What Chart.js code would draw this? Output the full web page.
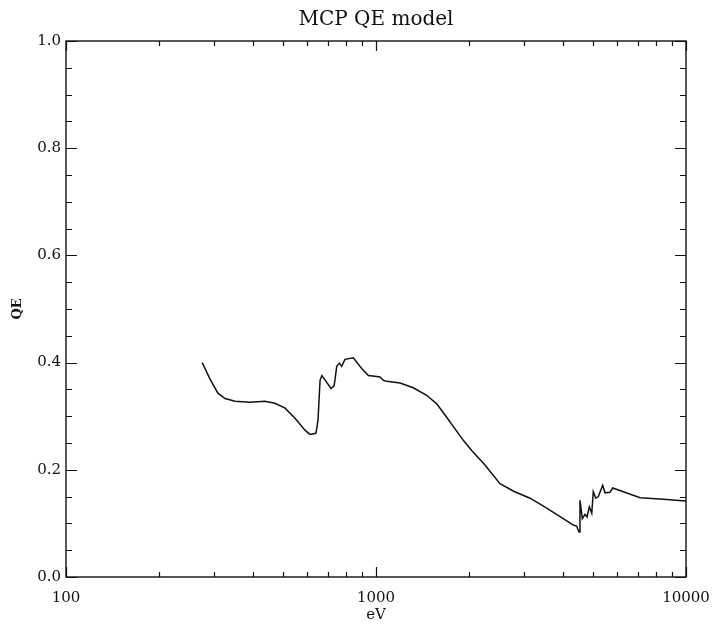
<!DOCTYPE html>
<html>
<head>
<meta charset="utf-8">
<title>MCP QE model</title>
<script src="https://cdn.jsdelivr.net/npm/chart.js@4/dist/chart.umd.min.js"></script>
<style>
  html, body { margin: 0; padding: 0; background: #fff; }
  #qeChart { display: block; }
</style>
</head>
<body>
<canvas id="qeChart" width="715" height="630"></canvas>
<script>
// photon energy (eV) and modelled quantum efficiency
const energyEv = [275, 291, 309, 326, 351, 392, 438, 472, 509, 548, 590, 612, 640, 650, 660, 669, 690, 716, 732, 737,
  747, 762, 775, 794, 845, 899, 945, 1005, 1030, 1056, 1083, 1195, 1319, 1457, 1570, 1690, 1913, 2035, 2247, 2512,
  2780, 3140, 3500, 4019, 4327, 4437, 4517, 4550, 4630, 4722, 4795, 4878, 4966, 5023, 5116, 5214, 5386, 5481, 5689,
  5801, 6280, 7112, 8454, 10000];
const qe = [0.400, 0.370, 0.343, 0.333, 0.328, 0.326, 0.328, 0.324, 0.315, 0.296, 0.274, 0.266, 0.268, 0.292, 0.367, 0.376, 0.365, 0.352, 0.356, 0.367,
  0.393, 0.399, 0.393, 0.406, 0.409, 0.389, 0.376, 0.374, 0.373, 0.367, 0.365, 0.362, 0.353, 0.339, 0.323, 0.298, 0.255, 0.236, 0.209, 0.174,
  0.160, 0.147, 0.131, 0.109, 0.097, 0.095, 0.084, 0.143, 0.109, 0.117, 0.112, 0.131, 0.119, 0.159, 0.147, 0.150, 0.171, 0.157, 0.158,
  0.166, 0.159, 0.148, 0.145, 0.142];

// axis ticks
const xMajorTicks = [100, 1000, 10000];
const xMinorTicks = [200, 300, 400, 500, 600, 700, 800, 900, 2000, 3000, 4000, 5000, 6000, 7000, 8000, 9000];
const yMajorTicks = [0, 0.2, 0.4, 0.6, 0.8, 1.0];
const yMinorTicks = [0.05, 0.1, 0.15, 0.25, 0.3, 0.35, 0.45, 0.5, 0.55, 0.65, 0.7, 0.75, 0.85, 0.9, 0.95];

const serif = "'DejaVu Serif', 'Liberation Serif', serif";

// frame on all four sides with inward ticks, mirrored top/right
const frameTicks = {
  id: 'frameTicks',
  afterDatasetsDraw(chart) {
    const { ctx, chartArea: a, scales: { x, y } } = chart;
    ctx.save();
    ctx.strokeStyle = '#111';
    ctx.lineWidth = 1.4;
    ctx.strokeRect(a.left, a.top, a.right - a.left, a.bottom - a.top);
    ctx.lineWidth = 1.2;
    ctx.beginPath();
    const xt = (v, len) => {
      const px = Math.round(x.getPixelForValue(v)) + 0.5;
      ctx.moveTo(px, a.bottom); ctx.lineTo(px, a.bottom - len);
      ctx.moveTo(px, a.top); ctx.lineTo(px, a.top + len);
    };
    const yt = (v, len) => {
      const py = Math.round(y.getPixelForValue(v)) + 0.5;
      ctx.moveTo(a.left, py); ctx.lineTo(a.left + len, py);
      ctx.moveTo(a.right, py); ctx.lineTo(a.right - len, py);
    };
    xMajorTicks.forEach(v => xt(v, 10));
    xMinorTicks.forEach(v => xt(v, 5));
    yMajorTicks.forEach(v => yt(v, 11));
    yMinorTicks.forEach(v => yt(v, 6));
    ctx.stroke();
    ctx.restore();
  }
};

new Chart(document.getElementById('qeChart'), {
  type: 'line',
  data: {
    datasets: [{
      data: energyEv.map((e, i) => ({ x: e, y: qe[i] })),
      borderColor: '#111',
      borderWidth: 1.5,
      pointRadius: 0,
      tension: 0,
      fill: false
    }]
  },
  options: {
    responsive: false,
    animation: false,
    events: [],
    layout: { padding: { left: 0, right: 29, top: 0, bottom: 0 } },
    plugins: {
      legend: { display: false },
      tooltip: { enabled: false },
      title: {
        display: true,
        fullSize: false,
        text: 'MCP QE model',
        color: '#111',
        font: { family: serif, size: 20, weight: 'normal' },
        padding: { top: 8, bottom: 9 }
      }
    },
    scales: {
      x: {
        type: 'logarithmic',
        min: 100,
        max: 10000,
        afterBuildTicks: scale => {
          scale.ticks = xMajorTicks.map(v => ({ value: v }));
        },
        afterFit: scale => {
          scale.height = 53;
          scale.paddingLeft = 0;
          scale.paddingRight = 0;
        },
        grid: { display: false, drawTicks: false },
        border: { display: false },
        ticks: {
          autoSkip: false,
          maxRotation: 0,
          padding: 12,
          color: '#111',
          font: { family: serif, size: 15 },
          callback: v => String(v)
        },
        title: {
          display: true,
          text: 'eV',
          color: '#111',
          font: { family: serif, size: 15 },
          padding: { top: 0, bottom: 6 }
        }
      },
      y: {
        min: 0,
        max: 1,
        afterBuildTicks: scale => {
          scale.ticks = yMajorTicks.map(v => ({ value: v }));
        },
        afterFit: scale => {
          scale.width = 66;
          scale.paddingTop = 0;
          scale.paddingBottom = 0;
        },
        grid: { display: false, drawTicks: false },
        border: { display: false },
        ticks: {
          padding: 5,
          color: '#111',
          font: { family: serif, size: 15 },
          callback: v => v.toFixed(1)
        },
        title: {
          display: true,
          text: 'QE',
          color: '#111',
          font: { family: serif, size: 13, weight: 'bold' },
          padding: { top: 10, bottom: 0 }
        }
      }
    }
  },
  plugins: [frameTicks]
});
</script>
</body>
</html>
